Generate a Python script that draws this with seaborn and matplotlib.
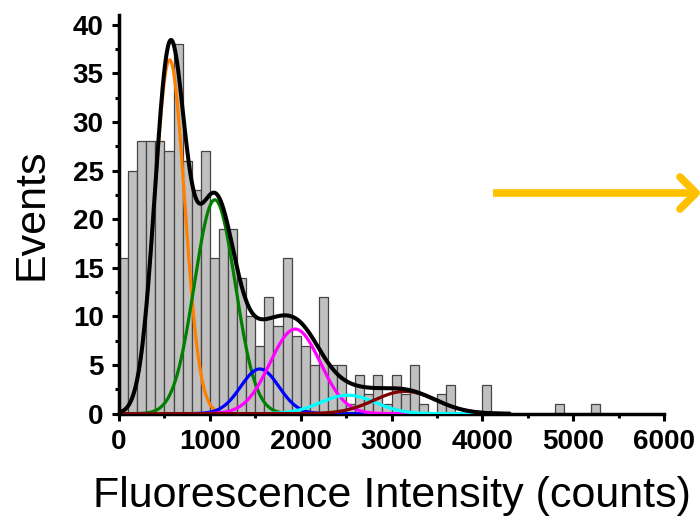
import numpy as np
import pandas as pd
import matplotlib
matplotlib.use("Agg")
import matplotlib.pyplot as plt
from matplotlib.lines import Line2D
from matplotlib.ticker import MultipleLocator
import seaborn as sns

# histogram: counts per 100-count bin, starting at 0
bin_width = 100
counts = [16, 25, 28, 28, 28, 27, 38, 26, 23, 27,
          16, 19, 19, 14, 10, 7, 12, 9, 16, 8,
          7, 5, 12, 5, 5, 1, 4, 2, 4, 1,
          4, 2, 5, 1, 0, 2, 3, 0, 0, 0,
          3, 0, 0, 0, 0, 0, 0, 0, 1, 0,
          0, 0, 1]

# gaussian fit components
peak_centers = [557, 1055, 1550, 1940, 2520, 3150]
peak_heights = [36.4, 22.0, 4.6, 8.7, 1.9, 2.3]
peak_sigmas = [165, 225, 210, 275, 300, 340]
peak_colors = ["#FF7F00", "#008000", "#0000FF", "#FF00FF", "#00FFFF", "#800000"]

x_ticks = [0, 1000, 2000, 3000, 4000, 5000, 6000]
y_ticks = [0, 5, 10, 15, 20, 25, 30, 35, 40]

sns.set_style("ticks")
plt.rcParams["font.family"] = ["Liberation Sans", "DejaVu Sans"]
plt.rcParams["text.color"] = "black"
plt.rcParams["axes.labelcolor"] = "black"
plt.rcParams["xtick.color"] = "black"
plt.rcParams["ytick.color"] = "black"

fig = plt.figure(figsize=(7.0, 5.21), dpi=100)
ax = fig.add_axes([0.170, 0.206, 0.7786, 0.765])

n_bins = len(counts)
hist_df = pd.DataFrame({"intensity": np.arange(n_bins) * bin_width + bin_width / 2,
                        "events": counts})
sns.histplot(data=hist_df, x="intensity", weights="events",
             binwidth=bin_width, binrange=(0, n_bins * bin_width),
             color="#C0C0C0", edgecolor="#454545", linewidth=0.9, alpha=1,
             ax=ax, zorder=1)

xs = np.linspace(0, 4300, 600)
total = np.zeros_like(xs)
for c, h, s, col in zip(peak_centers, peak_heights, peak_sigmas, peak_colors):
    ys = h * np.exp(-(xs - c) ** 2 / (2 * s ** 2))
    total += ys
    sns.lineplot(x=xs, y=ys, color=col, lw=2.3, ax=ax, zorder=3)
sns.lineplot(x=xs, y=total, color="black", lw=2.9, ax=ax, zorder=4)

ax.set_xlim(0, 6000)
ax.set_ylim(0, 41)
ax.set_xticks(x_ticks)
ax.set_yticks(y_ticks)
ax.xaxis.set_minor_locator(MultipleLocator(500))
ax.yaxis.set_minor_locator(MultipleLocator(2.5))
ax.tick_params(axis="both", which="major", length=5, width=2.2, labelsize=20, pad=6,
               color="black", labelcolor="black")
ax.tick_params(axis="both", which="minor", length=3, width=2.2, color="black")
for lab in ax.get_xticklabels() + ax.get_yticklabels():
    lab.set_fontweight("bold")
for side in ["top", "right"]:
    ax.spines[side].set_visible(False)
for side in ["left", "bottom"]:
    ax.spines[side].set_linewidth(2.5)
    ax.spines[side].set_color("black")
ax.set_xlabel("Fluorescence Intensity (counts)", fontsize=31, labelpad=15)
ax.set_ylabel("Events", fontsize=31, labelpad=15)

# arrow on the right side (figure pixels -> fractions)
W, H = 700.0, 521.0
gold = "#FFC000"
def fx(px):
    return px / W
def fy(py):
    return 1 - py / H
fig.add_artist(Line2D([fx(493), fx(694)], [fy(193), fy(193)], color=gold, lw=5.5,
                      solid_capstyle="butt", transform=fig.transFigure))
fig.add_artist(Line2D([fx(680), fx(696), fx(680)], [fy(177), fy(193), fy(209)], color=gold, lw=5.5,
                      solid_capstyle="round", solid_joinstyle="round", transform=fig.transFigure))

fig.savefig("out.png", dpi=100)
